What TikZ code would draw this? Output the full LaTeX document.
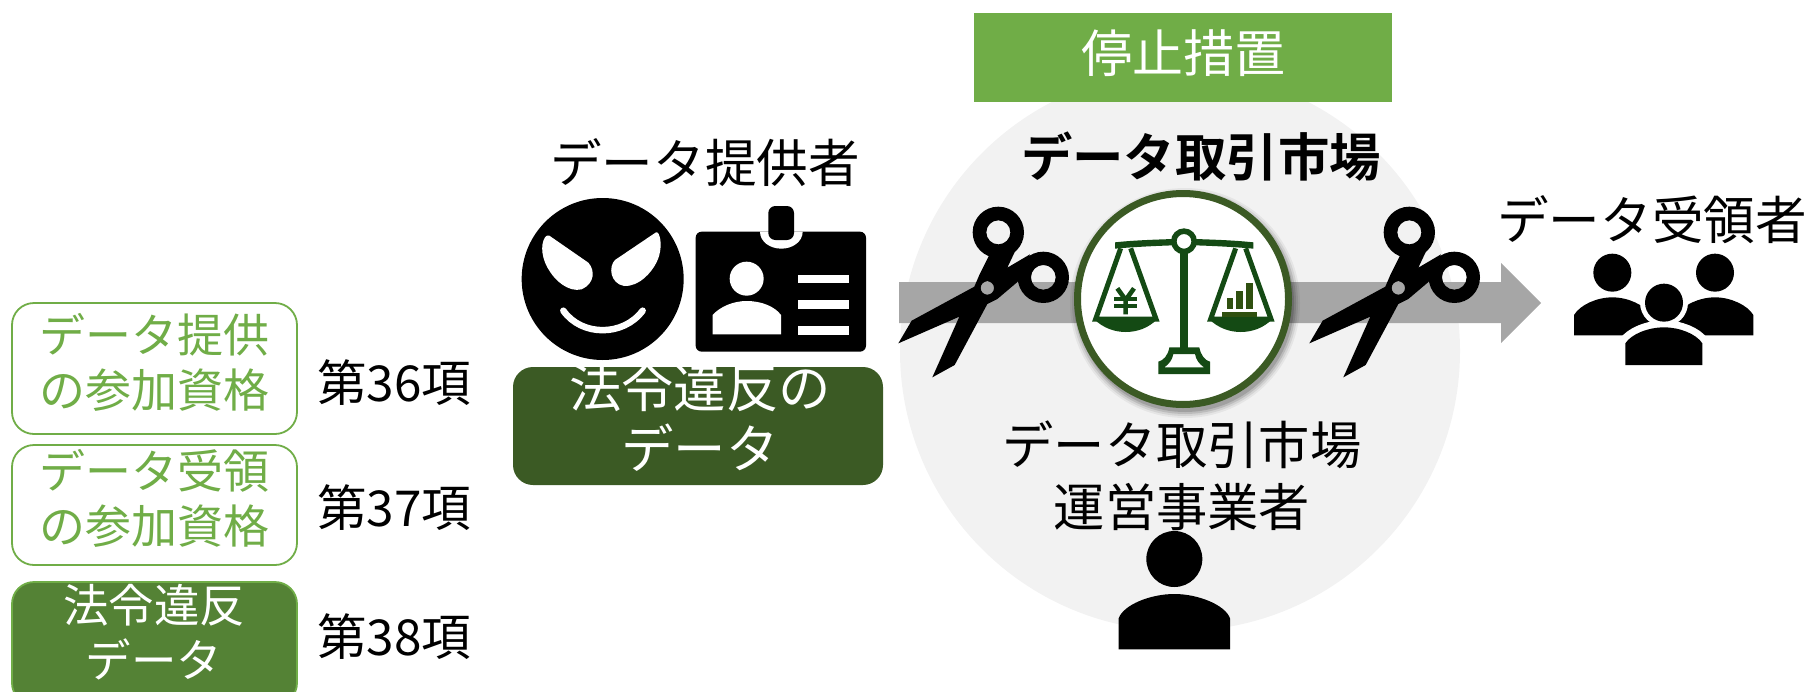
\documentclass[tikz,border=0pt]{standalone}
\usepackage{fontspec}
\setmainfont{Noto Sans CJK JP}[BoldFont={Noto Sans CJK JP Bold}]
\definecolor{gA}{HTML}{70AD47}
\definecolor{gB}{HTML}{548235}
\definecolor{gC}{HTML}{3B5A24}
\definecolor{gD}{HTML}{144A14}
\definecolor{gE}{HTML}{2F5010}
\definecolor{grayA}{HTML}{A6A6A6}
\definecolor{grayB}{HTML}{F2F2F2}
\newcommand{\fsz}[2]{\fontsize{#1}{#2}\selectfont}
\tikzset{
  x=1pt,y=-1pt,
  lbl/.style={inner sep=0pt,outer sep=0pt,align=center,text=black,font=\fsz{51.6}{62}},
  qual/.style={lbl,text=gA,font=\fsz{46}{55}},
  qualw/.style={lbl,text=white,font=\fsz{45.5}{55}},
  art/.style={lbl,font=\fsz{49.5}{55}},
  rbox/.style={draw=gA,line width=1.8pt,rounded corners=22pt},
  scissorsicon/.pic={
    \fill[black,even odd rule] (325,97) circle (77) (325,97) circle (36);
    \fill[black,even odd rule] (460,232) circle (77) (460,232) circle (37);
    \fill[black,even odd rule] (298,165) -- (268,225) -- (253,260) -- (65,362) -- (25,430)
      -- (208,350) -- (127,532) -- (194,495) -- (292,312) -- (322,297) -- (387,242)
      -- (402,210) -- (420,163) -- (352,203) -- (377,150) -- cycle
      (292,264) circle (20);
  },
}
\begin{document}
\begin{tikzpicture}
\useasboundingbox (0,0) rectangle (1805,691);
% backdrop
\fill[grayB] (1180,351) circle (280);
% title bar
\node[fill=gA,minimum width=418pt,minimum height=89pt,inner sep=0pt] (stopbox) at (1183,57.5) {};
\node[lbl,text=white,font=\fsz{51}{62}] (stoptext) at (1183,53) {停止措置};
% data flow arrow
\fill[grayA] (899,282) -- (1501,282) -- (1501,263) -- (1541,303) -- (1501,343) -- (1501,323) -- (899,323) -- cycle;
% left boxes
\draw[rbox,fill=white] (12,303) rectangle (297,434);
\node[qual] (q1) at (154,362) {データ提供\\の参加資格};
\draw[rbox,fill=white] (12,445) rectangle (297,565);
\node[qual] (q2) at (154,498) {データ受領\\の参加資格};
\draw[rbox,fill=gB] (12,582) rectangle (297,705);
\node[qualw] (q3) at (154,632.5) {法令違反\\データ};
\node[art] (a1) at (394,383) {第36項};
\node[art] (a2) at (394,508) {第37項};
\node[art] (a3) at (394,637) {第38項};
% provider
\node[lbl] (prov) at (705,163) {データ提供者};
\fill[gC,rounded corners=20pt] (513,367) rectangle (883,485);
\node[lbl,text=white,font=\fsz{52.4}{61}] (illegal) at (700,417.5) {法令違反の\\データ};
% face
\begin{scope}[shift={(500,120)},scale=1/3]
  \fill[black] (308,477) circle (243);
  \fill[white] (148,347) -- (265,428) .. controls (285,450) and (285,490) .. (245,508)
     .. controls (205,518) and (165,480) .. (150,455) .. controls (125,420) and (120,375) .. (135,352) .. controls (138,348) and (143,344) .. cycle;
  \fill[white] (468,337) -- (345,420) .. controls (325,440) and (330,490) .. (372,498)
     .. controls (420,500) and (455,455) .. (468,430) .. controls (485,400) and (485,360) .. (476,342) .. controls (474,338) and (471,336) .. cycle;
  \draw[white,line width=6.5pt,line cap=round] (190,572) .. controls (245,650) and (370,650) .. (428,572);
  % badge
  \fill[black,rounded corners=6pt] (587,335) rectangle (1098,695);
  \fill[white] (780,335) .. controls (780,365) and (810,386) .. (844,386) .. controls (878,386) and (908,365) .. (908,335) -- cycle;
  \fill[black,rounded corners=7pt] (805,258) rectangle (882,360);
  \fill[white] (740,476) circle (51);
  \fill[white] (638,643) -- (638,585) .. controls (660,560) and (700,543) .. (740,543) .. controls (785,543) and (825,560) .. (843,585) -- (843,643) -- cycle;
  \fill[white] (893,465) rectangle (1048,490);
  \fill[white] (893,541) rectangle (1048,567);
  \fill[white] (893,618) rectangle (1048,644);
\end{scope}
% market
\node[lbl,font=\fsz{51.4}{62}\bfseries] (mkt) at (1201,157) {データ取引市場};
\foreach \r/\o in {115/0.05,113/0.08,111/0.11,109/0.14}
  \fill[black,opacity=\o] (1185,303) circle (\r);
\node[circle,draw=gC,fill=white,line width=7pt,minimum size=211pt,inner sep=0pt] (scale) at (1183,299) {};
\begin{scope}[shift={(1080,220)},scale=1/3]
  \fill[gD] (105,67) .. controls (160,61) and (220,59) .. (280,57) -- (280,76) .. controls (220,78) and (160,81) .. (105,86) -- cycle;
  \fill[gD] (520,67) .. controls (465,61) and (405,59) .. (345,57) -- (345,76) .. controls (405,78) and (465,81) .. (520,86) -- cycle;
  \fill[gD] (301,90) rectangle (323,390);
  \fill[gD,even odd rule] (312,64) circle (39) (312,64) circle (22);
  \fill[gD,even odd rule] (268,382) -- (358,382) .. controls (362,405) and (375,422) .. (390,425) -- (390,462) -- (235,462) -- (235,425) .. controls (250,422) and (265,405) .. cycle
     (280,402) -- (345,402) .. controls (348,420) and (358,432) .. (372,442) -- (253,442) .. controls (267,432) and (277,420) .. cycle;
  % left pan
  \draw[gD,line width=5pt] (122,85) -- (47,297) -- (228,297) -- (152,85);
  \fill[gD] (42,297) .. controls (70,325) and (105,336) .. (137,336) .. controls (170,336) and (205,325) .. (232,297) -- cycle;
  % right pan
  \draw[gD,line width=5pt] (467,85) -- (392,297) -- (573,297) -- (497,85);
  \fill[gD] (387,297) .. controls (415,325) and (450,336) .. (482,336) .. controls (515,336) and (550,325) .. (577,297) -- cycle;
  % yen
  \draw[gD,line width=4.6pt] (112,205) -- (137,240) -- (162,205) (137,240) -- (137,283);
  \draw[gD,line width=4pt] (102,238) -- (172,238) (102,259) -- (172,259);
  % bars
  \fill[gE] (440,235) rectangle (460,268);
  \fill[gE] (468,213) rectangle (490,268);
  \fill[gE] (497,190) rectangle (519,268);
  \fill[gE] (427,277) rectangle (531,290);
\end{scope}
\pic[shift={(890,200)},scale=1/3] {scissorsicon};
\pic[shift={(1301,200)},scale=1/3] {scissorsicon};
\node[lbl,font=\fsz{51.3}{62}] (oper) at (1182,476) {データ取引市場\\運営事業者};
% operator person
\begin{scope}[shift={(1100,500)},scale=1/3]
  \fill[black] (223,177) circle (84);
  \fill[black] (56,448) -- (56,355) .. controls (70,315) and (150,282) .. (223,282) .. controls (295,282) and (376,315) .. (390,355) -- (390,448) -- cycle;
\end{scope}
% receiver
\node[lbl] (recv) at (1652,220) {データ受領者};
\begin{scope}[shift={(1480,180)},scale=1/3]
  \fill[black] (397,278) circle (57);
  \fill[black] (705,278) circle (57);
  \fill[black] (282,466) -- (282,405) .. controls (300,375) and (350,352) .. (397,352) .. controls (444,352) and (494,375) .. (512,405) -- (512,466) -- cycle;
  \fill[black] (590,466) -- (590,405) .. controls (608,375) and (658,352) .. (705,352) .. controls (752,352) and (802,375) .. (820,405) -- (820,466) -- cycle;
  \fill[white] (552,368) circle (72);
  \path[fill=white,draw=white,line width=14pt] (436,560) -- (436,490) .. controls (454,462) and (505,442) .. (552,442) .. controls (599,442) and (649,462) .. (667,490) -- (667,560) -- cycle;
  \fill[black] (552,368) circle (57);
  \fill[black] (436,555) -- (436,490) .. controls (454,462) and (505,442) .. (552,442) .. controls (599,442) and (649,462) .. (667,490) -- (667,555) -- cycle;
\end{scope}
\end{tikzpicture}
\end{document}
